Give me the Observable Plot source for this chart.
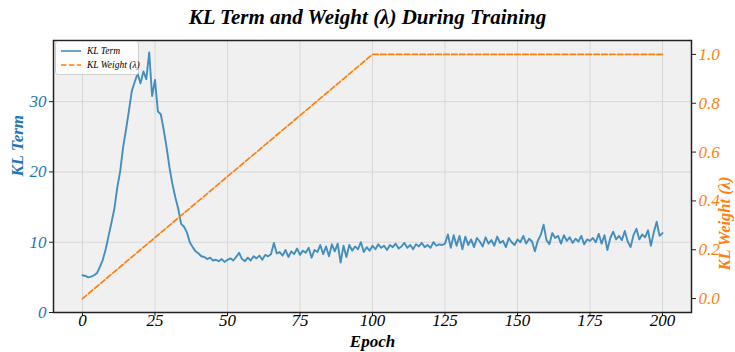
<!DOCTYPE html>
<html>
<head>
<meta charset="utf-8">
<script src="https://cdn.jsdelivr.net/npm/d3@7"></script>
<script src="https://cdn.jsdelivr.net/npm/@observablehq/plot@0.6"></script>
<style>
  html, body { margin: 0; padding: 0; background: #fff; }
  #wrap { position: relative; width: 735px; height: 352px; font-family: "Liberation Serif", "DejaVu Serif", serif; }
  #title { position: absolute; left: 0; top: 3px; width: 735px; text-align: center; font-size: 21px; font-weight: bold; font-style: italic; line-height: 28px; }
  #chart { position: absolute; left: 0; top: 30px; }
  #chart2 { position: absolute; left: 0; top: 30px; }
  #legend { position: absolute; left: 55px; top: 41px; width: 82px; height: 32px; background: rgba(255,255,255,0.85); border: 1px solid #d0d0d0; border-radius: 3px; font-style: italic; font-size: 9.5px; white-space: nowrap; }
  .li { position: absolute; left: 5px; height: 12px; display: flex; align-items: center; }
  .li svg { margin-right: 6px; }
</style>
</head>
<body>
<div id="wrap">
  <div id="title">KL Term and Weight (λ) During Training</div>
  <div id="chart"></div>
  <div id="chart2"></div>
  <div id="legend">
    <div class="li" style="top:3px"><svg width="20" height="4"><line x1="0" y1="2" x2="20" y2="2" stroke="#1f77b4" stroke-opacity="0.85" stroke-width="1.6"/></svg>KL Term</div>
    <div class="li" style="top:17px"><svg width="20" height="4"><line x1="0" y1="2" x2="20" y2="2" stroke="#ff7f0e" stroke-width="1.6" stroke-dasharray="5.5,2.4"/></svg>KL Weight (λ)</div>
  </div>
</div>
<script>
// ---- data ----
const klTerm = [
  5.3, 5.2, 5.0, 5.1, 5.3, 5.6, 6.5, 7.5, 9.0, 10.9,
  12.8, 14.8, 17.8, 20.1, 23.5, 26.0, 28.7, 31.5, 32.8, 34.0,
  32.6, 34.3, 33.2, 37.0, 30.8, 33.1, 28.6, 28.2, 26.0, 23.5,
  20.6, 18.3, 16.4, 14.8, 12.6, 12.2, 11.4, 10.0, 9.3, 8.7,
  8.4, 8.0, 7.9, 7.6, 7.8, 7.4, 7.5, 7.3, 7.6, 7.2,
  7.5, 7.7, 7.4, 7.9, 8.5, 7.6, 7.3, 7.8, 7.4, 8.0,
  7.7, 8.1, 7.5, 8.2, 8.0, 8.3, 9.9, 8.4, 8.6, 8.1,
  8.9, 7.9, 8.7, 8.3, 9.1, 8.2, 8.8, 8.5, 9.2, 7.8,
  8.9, 8.6, 9.6, 8.3, 9.4, 8.0, 9.7, 8.7, 9.8, 7.1,
  9.5, 7.9, 9.6, 8.8, 9.4, 9.0, 10.0, 8.6, 9.3, 8.8,
  9.5, 9.0, 9.7, 9.2, 9.5, 8.9, 9.6, 9.3, 9.8, 9.1,
  9.4, 9.9, 9.2, 9.6, 9.0, 9.7, 9.4, 9.9, 9.3, 9.6,
  9.2, 10.0, 9.5, 9.7, 9.6, 9.8, 11.1, 9.2, 11.0, 9.5,
  10.9, 9.0, 10.8, 9.6, 10.4, 9.3, 10.6, 10.1, 9.4, 10.7,
  9.8, 10.3, 9.5, 10.8, 9.9, 10.2, 9.3, 10.6, 10.0, 9.6,
  10.4, 10.0, 10.9, 9.8, 10.5, 10.1, 8.7, 10.2, 11.0, 12.5,
  10.3, 9.7, 11.3, 10.6, 10.9, 9.8, 11.0, 10.2, 10.7, 9.9,
  10.5, 10.1, 10.9, 9.7, 10.4, 10.2, 10.6, 10.0, 11.2, 9.8,
  11.0, 8.9, 10.6, 11.5, 10.4, 10.9, 10.3, 11.6, 10.1, 9.3,
  11.0, 11.9, 10.4, 11.1, 10.7, 11.7, 9.5, 11.4, 12.9, 10.9,
  11.3
];
const klEpochs = klTerm.map((_, i) => i);
const weightEpochs = [0, 100, 200];
const weightValues = [0, 1, 1];
const xTicks = [0, 25, 50, 75, 100, 125, 150, 175, 200];
const klTicks = [0, 10, 20, 30];
const weightTicks = [0.0, 0.2, 0.4, 0.6, 0.8, 1.0];

const blue = "#1f77b4", orange = "#ff7f0e";
const W = 735, H = 322;
const margins = {marginLeft: 53, marginRight: 44, marginTop: 10, marginBottom: 40};
const xDomain = [-10, 210];
const ff = "Liberation Serif, DejaVu Serif, serif";
const font = {fontFamily: ff, fontStyle: "italic", fontSize: "16px", background: "transparent", overflow: "visible"};
const tickTxt = {fontSize: 17, fontStyle: "italic", fontFamily: ff};

const klData = klEpochs.map((e, i) => ({epoch: e, kl: klTerm[i]}));
const wData = weightEpochs.map((e, i) => ({epoch: e, w: weightValues[i]}));

const p1 = Plot.plot({
  width: W, height: H, ...margins,
  style: font,
  x: {domain: xDomain},
  y: {domain: [0, 38.7]},
  marks: [
    Plot.frame({fill: "#f0f0f0", stroke: null}),
    Plot.gridX(xTicks, {stroke: "#d8d8d8", strokeOpacity: 1, strokeWidth: 1}),
    Plot.gridY(klTicks, {stroke: "#d8d8d8", strokeOpacity: 1, strokeWidth: 1}),
    Plot.line(klData, {x: "epoch", y: "kl", stroke: blue, strokeOpacity: 0.82, strokeWidth: 1.9}),
    Plot.axisX(xTicks, {tickSize: 4, stroke: "#222", label: null, tickFormat: () => ""}),
    Plot.axisY(klTicks, {tickSize: 4, stroke: "#222", label: null, tickFormat: () => ""}),
    Plot.text(xTicks, {x: d => d, text: d => String(d), frameAnchor: "bottom", dy: 13, fill: "#000", ...tickTxt}),
    Plot.text(klTicks, {y: d => d, text: d => String(d), frameAnchor: "left", dx: -7, textAnchor: "end", fill: blue, ...tickTxt}),
    Plot.text(["KL Term"], {frameAnchor: "left", rotate: -90, dx: -36, fill: blue, fontWeight: "bold", fontSize: 17, fontStyle: "italic", fontFamily: ff}),
    Plot.text(["Epoch"], {frameAnchor: "bottom", dy: 34, fill: "#000", fontWeight: "bold", fontSize: 17, fontStyle: "italic", fontFamily: ff})
  ]
});
document.getElementById("chart").append(p1);

const p2 = Plot.plot({
  width: W, height: H, ...margins,
  style: font,
  x: {domain: xDomain, axis: null},
  y: {domain: [-0.057, 1.057], axis: null},
  marks: [
    Plot.line(wData, {x: "epoch", y: "w", stroke: orange, strokeWidth: 1.7, strokeDasharray: "5.5,2.4"}),
    Plot.axisY(weightTicks, {anchor: "right", tickSize: 4, stroke: "#222", label: null, tickFormat: () => ""}),
    Plot.text(weightTicks, {y: d => d, text: d => d.toFixed(1), frameAnchor: "right", dx: 7, textAnchor: "start", fill: orange, ...tickTxt}),
    Plot.text(["KL Weight (λ)"], {frameAnchor: "right", rotate: -90, dx: 33, fill: orange, fontWeight: "bold", fontSize: 16.5, fontStyle: "italic", fontFamily: ff}),
    Plot.frame({stroke: "#222", strokeWidth: 1.5})
  ]
});
document.getElementById("chart2").append(p2);
</script>
</body>
</html>
